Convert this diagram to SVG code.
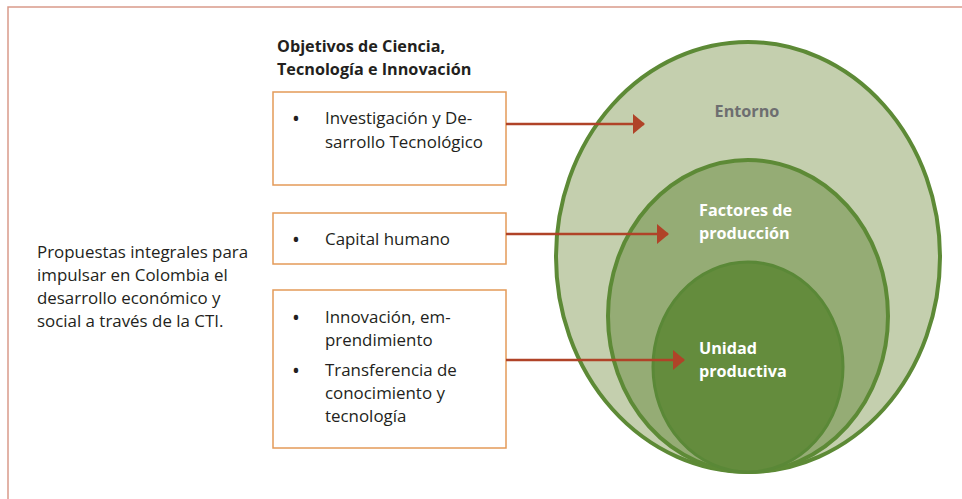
<svg xmlns="http://www.w3.org/2000/svg" width="962" height="499" viewBox="0 0 962 499">
<defs>
<style>
.t{font-family:"Open Sans","Noto Sans","Liberation Sans",sans-serif;font-size:16.9px;fill:#231f20}
.b{font-family:"Open Sans","Noto Sans","Liberation Sans",sans-serif;font-size:21px;fill:#231f20}
.h{font-family:"Open Sans","Noto Sans","Liberation Sans",sans-serif;font-size:16.2px;font-weight:bold;fill:#231f20}
.c{font-family:"Open Sans","Noto Sans","Liberation Sans",sans-serif;font-size:16.2px;font-weight:bold;fill:#ffffff}
.box{fill:#ffffff;stroke:#e49a58;stroke-width:1.5}
.arr{stroke:#b04328;stroke-width:2.5;fill:none}
</style>
<marker id="ah" markerWidth="12" markerHeight="20" refX="11" refY="10" orient="auto" markerUnits="userSpaceOnUse">
<path d="M0,0 L12,10 L0,20 Z" fill="#b04328"/>
</marker>
</defs>
<rect x="8" y="7" width="960" height="500" fill="#ffffff" stroke="#d99a8a" stroke-width="1.5"/>
<g id="entorno">
<ellipse cx="748" cy="257" rx="192" ry="215" fill="#c4cfae" stroke="#5d8a36" stroke-width="4"/>
<text class="c" x="747" y="117" text-anchor="middle" style="fill:#6d6e70">Entorno</text>
</g>
<g id="factores">
<ellipse cx="748" cy="316" rx="140" ry="156" fill="#95ac75" stroke="#5d8a36" stroke-width="4"/>
<text class="c" x="699" y="216">Factores de</text>
<text class="c" x="699" y="239">producción</text>
</g>
<g id="unidad">
<ellipse cx="748" cy="367" rx="95" ry="105" fill="#648c3d" stroke="#5a8837" stroke-width="3"/>
<text class="c" x="699" y="354">Unidad</text>
<text class="c" x="699" y="377">productiva</text>
</g>
<g id="titulo">
<text class="h" x="277" y="52">Objetivos de Ciencia,</text>
<text class="h" x="277" y="75">Tecnología e Innovación</text>
</g>
<g id="propuestas">
<text class="t" x="37" y="258">Propuestas integrales para</text>
<text class="t" x="37" y="281">impulsar en Colombia el</text>
<text class="t" x="37" y="304">desarrollo económico y</text>
<text class="t" x="37" y="327">social a través de la CTI.</text>
</g>
<g id="box1">
<rect class="box" x="273" y="92" width="233" height="93"/>
<text class="b" x="292" y="126">•</text>
<text class="t" x="325" y="124">Investigación y De-</text>
<text class="t" x="325" y="148">sarrollo Tecnológico</text>
</g>
<g id="box2">
<rect class="box" x="273" y="213" width="233" height="51"/>
<text class="b" x="292" y="247">•</text>
<text class="t" x="325" y="245">Capital humano</text>
</g>
<g id="box3">
<rect class="box" x="273" y="290" width="233" height="158"/>
<text class="b" x="292" y="325">•</text>
<text class="t" x="325" y="323">Innovación, em-</text>
<text class="t" x="325" y="346">prendimiento</text>
<text class="b" x="292" y="378">•</text>
<text class="t" x="325" y="376">Transferencia de</text>
<text class="t" x="325" y="399">conocimiento y</text>
<text class="t" x="325" y="422">tecnología</text>
</g>
<g id="connectors">
<line class="arr" x1="506" y1="124" x2="644" y2="124" marker-end="url(#ah)"/>
<line class="arr" x1="506" y1="234" x2="668" y2="234" marker-end="url(#ah)"/>
<line class="arr" x1="506" y1="360" x2="684" y2="360" marker-end="url(#ah)"/>
</g>
</svg>
